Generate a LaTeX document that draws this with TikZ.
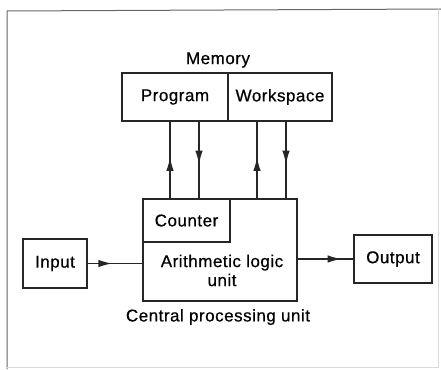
\documentclass[tikz,border=0pt]{standalone}
\usepackage{fontspec}
\setmainfont{Liberation Sans}
\newfontfamily\dfont[FakeBold=0.6,LetterSpace=3]{Liberation Sans}
\usetikzlibrary{arrows.meta,decorations.markings}
\begin{document}
\begin{tikzpicture}[x=1pt,y=-1pt,
  box/.style={draw=black!85,line width=1.5pt,inner sep=0pt,font=\dfont\fontsize{17}{19}\selectfont},
  lbl/.style={font=\dfont\fontsize{17}{19}\selectfont,inner sep=0pt},
  conn/.style={draw=black!85,line width=1.5pt},
  midarrow/.style={postaction={decorate,decoration={markings,
      mark=at position #1 with {\arrow{Latex[length=14pt,width=7.5pt]}}}}}
]
\useasboundingbox (0,0) rectangle (441,369);
% frame
\draw[black!60,line width=1pt] (7,369) -- (7,11) -- (441,9);
\draw[black!15,line width=0.8pt] (438,9) -- (438,367) -- (7,367);

% memory
\node[lbl] (memlabel) at (218,60) {Memory};
\node[box,minimum width=106pt,minimum height=48pt] (prog) at (175,97) {Program};
\node[box,minimum width=104pt,minimum height=48pt] (work) at (280,97) {Workspace};

% cpu
\node[box,minimum width=154pt,minimum height=102pt] (cpu) at (220,250) {};
\node[box,minimum width=87pt,minimum height=43pt] (counter) at (186.5,220.5) {Counter};
\node[lbl,align=center] (alu) at (222,270.5) {Arithmetic logic\\unit};
\node[lbl] (cpulabel) at (218,317) {Central processing unit};

% io
\node[box,minimum width=64pt,minimum height=49pt] (input) at (55,263.5) {Input};
\node[box,minimum width=78pt,minimum height=48pt] (output) at (393,259) {Output};

% connectors
\coordinate (u1) at (170,0);
\coordinate (d1) at (199,0);
\coordinate (u2) at (257,0);
\coordinate (d2) at (286,0);
\draw[conn,midarrow=0.54] (cpu.north -| u1) -- (prog.south -| u1);
\draw[conn,midarrow=0.56] (prog.south -| d1) -- (cpu.north -| d1);
\draw[conn,midarrow=0.54] (cpu.north -| u2) -- (work.south -| u2);
\draw[conn,midarrow=0.56] (work.south -| d2) -- (cpu.north -| d2);
\draw[conn,midarrow=0.45] (input.east) -- (input.east -| cpu.west);
\draw[conn,midarrow=0.79] (output.west -| cpu.east) -- (output.west);
\end{tikzpicture}
\end{document}
